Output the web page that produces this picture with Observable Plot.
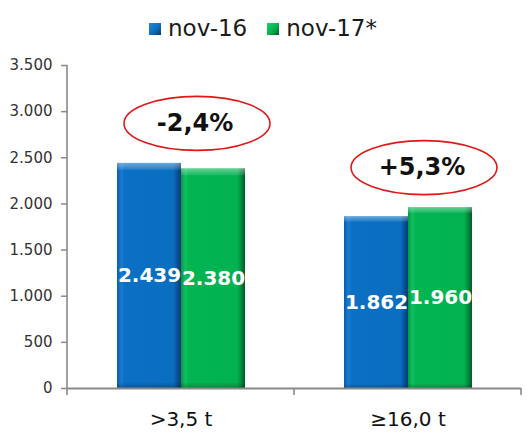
<!DOCTYPE html>
<html>
<head>
<meta charset="utf-8">
<script src="https://cdn.jsdelivr.net/npm/d3@7"></script>
<script src="https://cdn.jsdelivr.net/npm/@observablehq/plot@0.6"></script>
<style>
  html, body { margin: 0; padding: 0; background: #fff; }
  body { width: 526px; height: 433px; overflow: hidden; font-family: "DejaVu Sans", Verdana, sans-serif; }
  #legend { height: 50px; box-sizing: border-box; padding-top: 5px; display: flex; justify-content: center; align-items: center; font-size: 23px; color: #1a1a1a; }
  .item { display: flex; align-items: center; margin: 0 10px; }
  .sw { width: 12px; height: 12px; margin-right: 7px; margin-top: 2px; }
</style>
</head>
<body>
<svg width="0" height="0" style="position:absolute">
  <defs>
    <linearGradient id="gBlue" x1="0" x2="1" y1="0" y2="0">
      <stop offset="0" stop-color="#0a5ea8"/>
      <stop offset="0.07" stop-color="#1a7bd0"/>
      <stop offset="0.12" stop-color="#0a70c4"/>
      <stop offset="0.88" stop-color="#0a6ec0"/>
      <stop offset="0.94" stop-color="#07559a"/>
      <stop offset="1" stop-color="#053a6a"/>
    </linearGradient>
    <linearGradient id="gGreen" x1="0" x2="1" y1="0" y2="0">
      <stop offset="0" stop-color="#019a45"/>
      <stop offset="0.07" stop-color="#10c060"/>
      <stop offset="0.12" stop-color="#02b552"/>
      <stop offset="0.88" stop-color="#02b150"/>
      <stop offset="0.94" stop-color="#028a3e"/>
      <stop offset="1" stop-color="#015a28"/>
    </linearGradient>
    <linearGradient id="gHi" x1="0" x2="0" y1="0" y2="1">
      <stop offset="0" stop-color="#ffffff" stop-opacity="0.4"/>
      <stop offset="0.028" stop-color="#ffffff" stop-opacity="0.12"/>
      <stop offset="0.034" stop-color="#ffffff" stop-opacity="0"/>
      <stop offset="0.975" stop-color="#000000" stop-opacity="0"/>
      <stop offset="1" stop-color="#000000" stop-opacity="0.25"/>
    </linearGradient>
  </defs>
</svg>
<div id="legend"></div>
<div id="chart"></div>
<script>
const categories = [">3,5 t", "≥16,0 t"];
const series = ["nov-16", "nov-17*"];
const nov16 = [2439, 1862];
const nov17 = [2380, 1960];
const changes = ["-2,4%", "+5,3%"];
const yTicks = [0, 500, 1000, 1500, 2000, 2500, 3000, 3500];

const seriesFill = ["url(#gBlue)", "url(#gGreen)"];
const legendCss = [
  "linear-gradient(135deg, #2a86d8, #0a6ec0 55%, #053a6a)",
  "linear-gradient(135deg, #20d070, #02b150 55%, #015a28)"
];

const data = categories.flatMap((c, i) => [
  {cat: c, series: series[0], value: nov16[i]},
  {cat: c, series: series[1], value: nov17[i]}
]);
const annot = categories.map((c, i) => ({cat: c, label: changes[i], top: Math.max(nov16[i], nov17[i])}));

const loc = d3.formatLocale({decimal: ",", thousands: ".", grouping: [3], currency: ["", ""]});
const fmt = loc.format(",d");

// legend
const legend = d3.select("#legend");
series.forEach((s, i) => {
  const it = legend.append("div").attr("class", "item");
  it.append("div").attr("class", "sw").style("background", legendCss[i]);
  it.append("span").text(s);
});

// ellipse symbol
const ellipse = {
  draw(ctx) {
    const rx = 73, ry = 27, k = 0.5523;
    ctx.moveTo(rx, 0);
    ctx.bezierCurveTo(rx, ry * k, rx * k, ry, 0, ry);
    ctx.bezierCurveTo(-rx * k, ry, -rx, ry * k, -rx, 0);
    ctx.bezierCurveTo(-rx, -ry * k, -rx * k, -ry, 0, -ry);
    ctx.bezierCurveTo(rx * k, -ry, rx, -ry * k, rx, 0);
    ctx.closePath();
  }
};

const font = "DejaVu Sans, Verdana, sans-serif";
const plot = Plot.plot({
  width: 526,
  height: 383,
  marginLeft: 66,
  marginRight: 5,
  marginTop: 15,
  marginBottom: 45,
  style: {fontFamily: font, background: "white", overflow: "visible"},
  fx: {domain: categories, padding: 0, label: null},
  x: {domain: series, paddingInner: 0, paddingOuter: 0.76, axis: null},
  y: {domain: [0, 3500], label: null},
  color: {type: "ordinal", domain: series, range: seriesFill},
  marks: [
    Plot.barY(data, {fx: "cat", x: "series", y: "value", fill: "series"}),
    Plot.barY(data, {fx: "cat", x: "series", y: "value", fill: "url(#gHi)"}),
    Plot.text(data, {fx: "cat", x: "series", y: d => d.value / 2, text: d => fmt(d.value),
      fill: "white", fontWeight: "bold", fontSize: 20}),
    Plot.dot(annot, {fx: "cat", y: "top", dx: 16, dy: -40, symbol: ellipse, r: 5,
      stroke: "#e01818", strokeWidth: 1.6, fill: "none"}),
    Plot.text(annot, {fx: "cat", y: "top", dx: 14, dy: -40, text: "label",
      fontSize: 24, fontWeight: "bold", fill: "#111"}),
    Plot.ruleY([0], {stroke: "#8a8a8a", strokeWidth: 2}),
    Plot.axisY({ticks: yTicks, tickFormat: fmt, tickSize: 6, tickPadding: 9, fontSize: 15,
      stroke: "#8a8a8a", strokeWidth: 1.5, fill: "#333", label: null}),
    Plot.axisFx({anchor: "bottom", tickSize: 0, tickPadding: 23, fontSize: 20, fill: "#111", label: null})
  ]
});
document.getElementById("chart").appendChild(plot);

// axis line and category boundary ticks from the library's scales
const fx = plot.scale("fx");
const y = plot.scale("y");
const svg = d3.select(plot);
const x0 = fx.apply(categories[0]);
const bw = fx.bandwidth;
const y0 = y.apply(0), yTop = y.apply(yTicks[yTicks.length - 1]);
const g = svg.append("g").attr("stroke", "#8a8a8a").attr("stroke-width", 1.6);
g.append("line").attr("x1", x0).attr("x2", x0).attr("y1", yTop).attr("y2", y0 + 7);
categories.forEach(c => {
  const xr = fx.apply(c) + bw;
  g.append("line").attr("x1", xr).attr("x2", xr).attr("y1", y0).attr("y2", y0 + 7);
});
</script>
</body>
</html>
